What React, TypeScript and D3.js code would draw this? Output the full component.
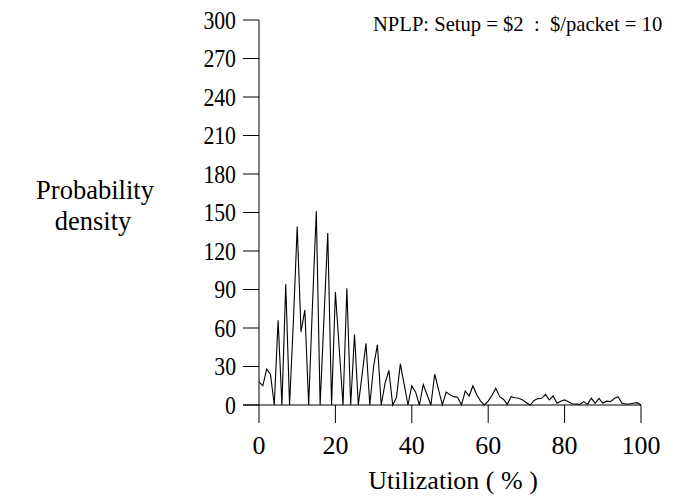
import React from "react";
import * as d3 from "d3";

const utilization: number[] = d3.range(0, 101);
const density: number[] = [
  18, 15, 28, 24, 0, 66, 0, 94, 0, 65,
  139, 57, 74, 0, 78, 151, 0, 67, 134, 0,
  88, 44, 0, 91, 0, 55, 0, 24, 48, 0,
  30, 47, 0, 17, 27, 0, 6, 32, 16, 0,
  15, 10, 0, 16, 8, 0, 24, 12, 0, 10,
  8, 6.5, 6, 0, 11, 7, 15, 8, 3, 0,
  3, 7.5, 13, 6.5, 4.5, 0.5, 6.5, 5.7, 5.2, 4,
  1.8, 0, 3.5, 5, 5.2, 8.3, 4, 7, 1.3, 3,
  4, 2.6, 0.8, 0.8, 0.5, 2.6, 0.5, 5.2, 1.3, 5.2,
  1.3, 3, 2.6, 5, 6.5, 1.3, 0.8, 0.8, 1.3, 1.8,
  0,
];
const xTicks: number[] = [0, 20, 40, 60, 80, 100];
const yTicks: number[] = [0, 30, 60, 90, 120, 150, 180, 210, 240, 270, 300];
const title = "NPLP: Setup = $2  :  $/packet = 10";
const xLabel = "Utilization ( % )";
const yLabel = ["Probability", "density"];

export default function App() {
  const x = d3.scaleLinear().domain([0, 100]).range([259, 641]);
  const y = d3.scaleLinear().domain([0, 300]).range([405, 20]);
  const line = d3
    .line<number>()
    .x((_, i) => x(utilization[i]))
    .y((d) => y(d));
  const font = "'Liberation Serif', 'Times New Roman', serif";
  return (
    <svg
      width={677}
      height={500}
      style={{ position: "absolute", left: 0, top: 0, background: "#fff" }}
      fontFamily={font}
    >
      <rect width={677} height={500} fill="#fff" />
      <line x1={259} x2={259} y1={y(300)} y2={y(0)} stroke="#000" strokeWidth={1} />
      <line x1={243} x2={x(100)} y1={y(0)} y2={y(0)} stroke="#000" strokeWidth={1} />
      {yTicks.map((t) => (
        <g key={"y" + t}>
          <line x1={243} x2={259} y1={y(t)} y2={y(t)} stroke="#000" />
          <text
            transform={`translate(236,${y(t)}) scale(0.87,1)`}
            dy="0.35em"
            textAnchor="end"
            fontSize={25}
          >
            {t}
          </text>
        </g>
      ))}
      {xTicks.map((t) => (
        <g key={"x" + t}>
          <line x1={x(t)} x2={x(t)} y1={y(0)} y2={423} stroke="#000" />
          <text x={x(t)} y={454} textAnchor="middle" fontSize={26}>
            {t}
          </text>
        </g>
      ))}
      <path d={line(density) || ""} fill="none" stroke="#000" strokeWidth={1.1} />
      <text x={453} y={489} textAnchor="middle" fontSize={26}>
        {xLabel}
      </text>
      <text x={95} y={199} textAnchor="middle" fontSize={26.5}>
        {yLabel[0]}
      </text>
      <text x={93} y={230} textAnchor="middle" fontSize={26.5}>
        {yLabel[1]}
      </text>
      <text x={373} y={31} fontSize={20.6} style={{ whiteSpace: "pre" }}>
        {title}
      </text>
    </svg>
  );
}
